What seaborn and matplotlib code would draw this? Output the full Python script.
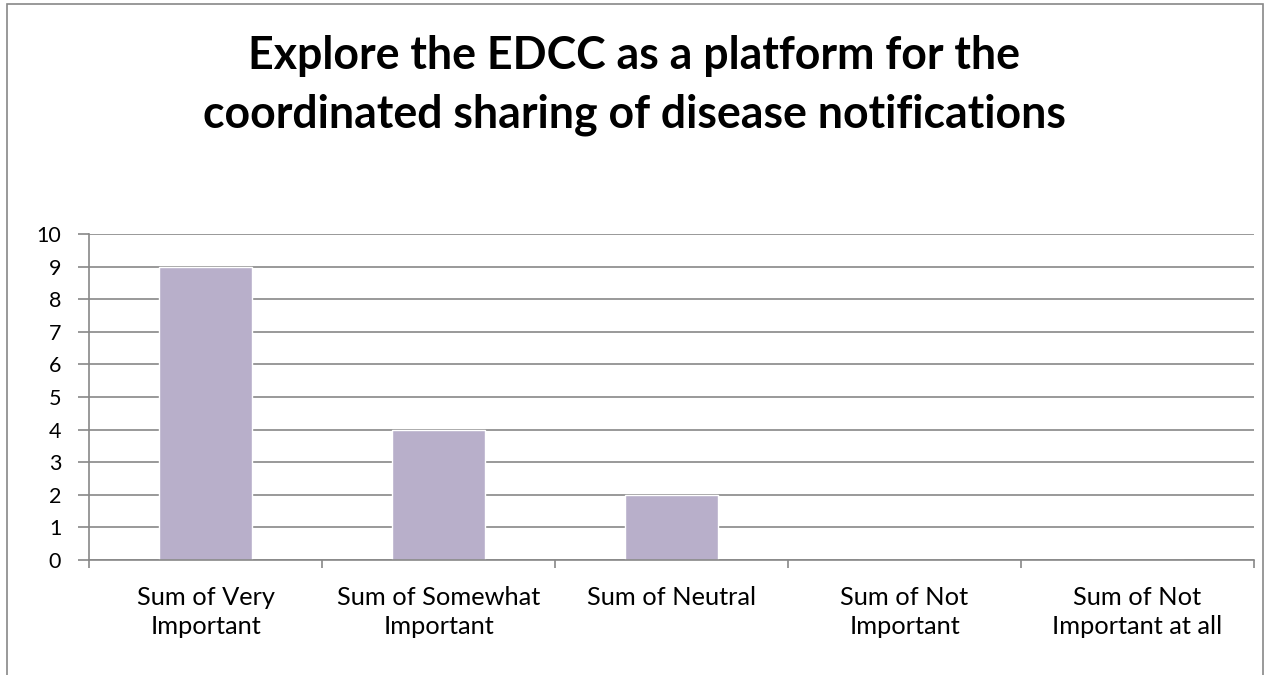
import matplotlib
matplotlib.use("Agg")
import matplotlib.pyplot as plt
import seaborn as sns
import pandas as pd
from matplotlib.patches import Rectangle

categories = ["Sum of Very\nImportant", "Sum of Somewhat\nImportant", "Sum of Neutral",
              "Sum of Not\nImportant", "Sum of Not\nImportant at all"]
values = [9, 4, 2, 0, 0]
y_ticks = list(range(0, 11))
title_lines = ["Explore the EDCC as a platform for the",
               "coordinated sharing of disease notifications"]

sns.set_style("white")
plt.rcParams['font.family'] = ['Lato', 'DejaVu Sans']

df = pd.DataFrame({"category": categories, "value": values})

fig = plt.figure(figsize=(12.68, 6.75), dpi=100)
renderer = fig.canvas.get_renderer()


def fit_size(text, width_px, weight="normal"):
    # font size (pt) at which text is width_px wide
    t = fig.text(0, 0, text, fontsize=20, fontweight=weight)
    w = t.get_window_extent(renderer).width
    t.remove()
    return 20 * width_px / w


tick_size = fit_size("Sum of Somewhat", 203)
ytick_size = fit_size("10", 25)
title_size = fit_size(title_lines[1], 864, "bold")

ax = fig.add_axes([0.0702, 0.1704, 0.9188, 0.4829])

ax.set_axisbelow(True)
ax.yaxis.grid(True, color="#888888", linewidth=1.2)
sns.barplot(data=df, x="category", y="value", color="#B8AFCA", saturation=1,
            width=0.4, ax=ax)

ax.set_xlim(-0.5, 4.5)
ax.set_ylim(0, 10)
ax.set_yticks(y_ticks)
ax.set_xlabel("")
ax.set_ylabel("")
ax.tick_params(axis="y", labelsize=ytick_size, length=8, width=1.2, color="#888888", pad=12,
               left=True, labelcolor="black")
ax.tick_params(axis="x", labelsize=tick_size, length=0, pad=19, labelcolor="black")
for lbl in ax.get_xticklabels():
    lbl.set_linespacing(1.3)

# category boundary ticks
ax.set_xticks([i - 0.5 for i in range(6)], minor=True)
ax.tick_params(axis="x", which="minor", length=6, width=1.2, color="#888888", bottom=True)

for side in ["top", "right"]:
    ax.spines[side].set_visible(False)
for side in ["left", "bottom"]:
    ax.spines[side].set_color("#888888")
    ax.spines[side].set_linewidth(1.2)

fig.text(0.5, 1 - 69 / 675, title_lines[0], ha="center", va="baseline",
         fontsize=title_size, fontweight="bold", color="black")
fig.text(0.5, 1 - 128 / 675, title_lines[1], ha="center", va="baseline",
         fontsize=title_size, fontweight="bold", color="black")

fig.patches.append(Rectangle((7 / 1268, -0.01), 1256 / 1268, 1.01 - 4 / 675,
                             transform=fig.transFigure, fill=False,
                             edgecolor="#888888", linewidth=1.2))

fig.savefig("out.png", dpi=100)
